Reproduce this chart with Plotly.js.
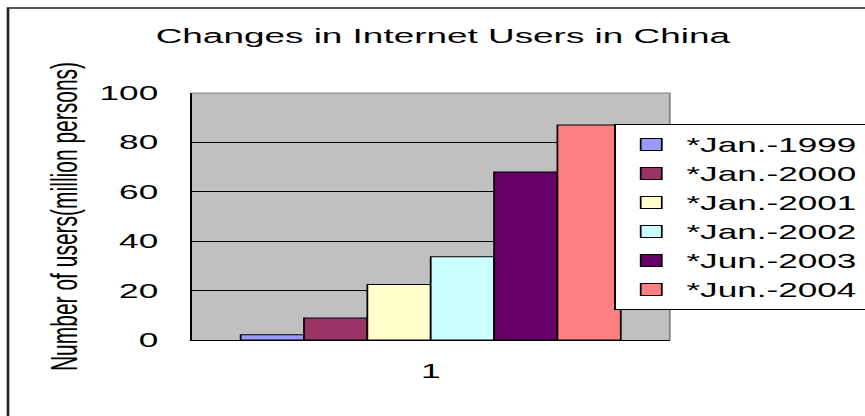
<!DOCTYPE html>
<html>
<head>
<meta charset="utf-8">
<script src="https://cdn.plot.ly/plotly-3.0.1.min.js"></script>
<style>
  html, body { margin: 0; padding: 0; background: #ffffff; overflow: hidden; }
  #chart { width: 492px; height: 416px; transform: scaleX(1.758); transform-origin: 0 0; }
</style>
</head>
<body>
<div id="chart"></div>
<script>
// ---- data ----
const categories = ["1"];
const seriesNames = ["*Jan.-1999", "*Jan.-2000", "*Jan.-2001", "*Jan.-2002", "*Jun.-2003", "*Jun.-2004"];
const seriesValues = [2.1, 8.9, 22.5, 33.7, 68.0, 87.0];
const yTickValues = [0, 20, 40, 60, 80, 100];

// ---- styles ----
const barColors = ["#9999FF", "#993366", "#FFFFCC", "#CCFFFF", "#660066", "#FF8080"];
const FONT = "Arial, 'Liberation Sans', Helvetica, sans-serif";

const traces = seriesNames.map((name, i) => ({
  type: "bar",
  name: name,
  x: categories,
  y: [seriesValues[i]],
  marker: { color: barColors[i], line: { color: "#000000", width: 1 } },
  hoverinfo: "skip"
}));

const layout = {
  width: 492,
  height: 416,
  margin: { l: 109, r: 111, t: 93, b: 76, pad: 0, autoexpand: false },
  paper_bgcolor: "#ffffff",
  plot_bgcolor: "#C0C0C0",
  font: { family: FONT, color: "#000000", size: 20 },
  barmode: "group",
  bargap: 0.205,
  bargroupgap: 0,
  showlegend: true,
  title: {
    text: "Changes in Internet Users in China",
    font: { family: FONT, size: 21, color: "#000000" },
    xref: "container", x: 0.512, xanchor: "center",
    yref: "container", y: 0.914, yanchor: "middle"
  },
  xaxis: {
    type: "category",
    showgrid: false,
    zeroline: false,
    showline: true, linecolor: "#000000", linewidth: 1,
    ticks: "",
    tickfont: { family: FONT, size: 20, color: "#000000" },
    ticklabelstandoff: 13,
    fixedrange: true
  },
  yaxis: {
    range: [0, 100],
    tickvals: yTickValues,
    showgrid: true, gridcolor: "#000000", gridwidth: 1,
    zeroline: false,
    showline: true, linecolor: "#000000", linewidth: 1,
    ticks: "inside", ticklen: 6, tickcolor: "#000000", tickwidth: 1,
    tickfont: { family: FONT, size: 20, color: "#000000" },
    ticklabelstandoff: 14,
    title: {
      text: "Number of users(million persons)",
      font: { family: FONT, size: 21, color: "#000000" },
      standoff: 6
    },
    fixedrange: true
  },
  legend: {
    x: 0.884, xanchor: "left",
    y: 0.8745, yanchor: "top",
    bgcolor: "#ffffff",
    bordercolor: "#000000",
    borderwidth: 1,
    font: { family: FONT, size: 20, color: "#000000" },
    traceorder: "normal",
    tracegroupgap: 0,
    itemwidth: 30
  },
  shapes: [
    // gray top and right border of the plot area
    {
      type: "path", xref: "paper", yref: "paper",
      path: "M 0,1 L 1,1 L 1,0",
      line: { color: "#808080", width: 1 },
      layer: "above"
    },
    // outer chart frame (right and bottom lie beyond the picture)
    {
      type: "rect", xref: "paper", yref: "paper",
      x0: -0.384, x1: 2, y0: -1, y1: 1.344,
      line: { color: "#222222", width: 1.5 },
      fillcolor: "rgba(0,0,0,0)",
      layer: "below"
    }
  ]
};

Plotly.newPlot("chart", traces, layout, { staticPlot: true, displayModeBar: false });
</script>
</body>
</html>
